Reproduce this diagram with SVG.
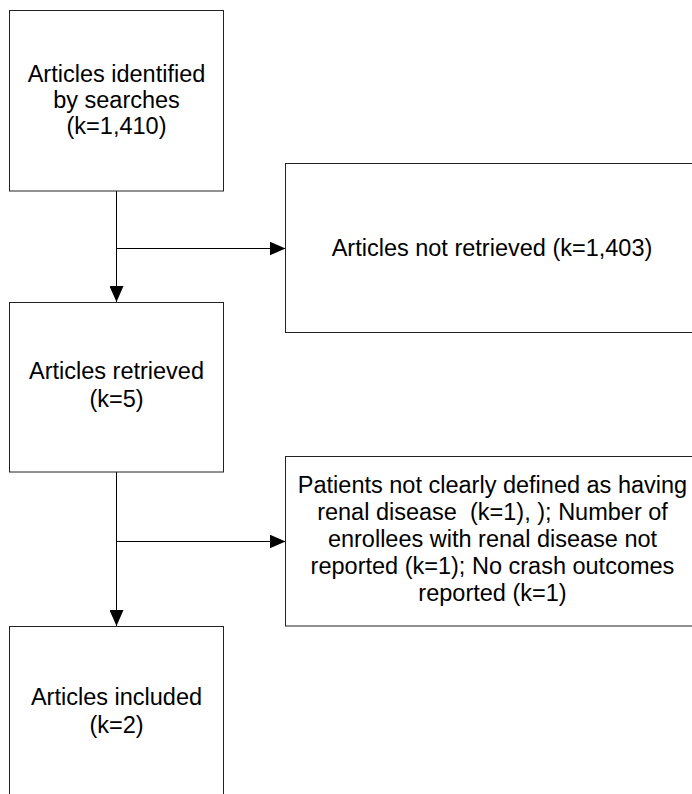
<svg xmlns="http://www.w3.org/2000/svg" width="692" height="794" viewBox="0 0 692 794">
<style>
.box{fill:#fff;stroke:#222;stroke-width:1}
.t{font-family:"Liberation Sans",Arial,sans-serif;font-size:23.5px;fill:#000;text-anchor:middle;white-space:pre}
.c{fill:none;stroke:#000;stroke-width:1}
</style>
<defs>
<marker id="ah" viewBox="0 0 16 14" refX="16" refY="7" markerWidth="16" markerHeight="14" markerUnits="userSpaceOnUse" orient="auto">
<path d="M0,0 L16,7 L0,14 Z" fill="#000"/>
</marker>
</defs>
<rect width="692" height="794" fill="#fff"/>
<g id="connectors">
<line class="c" x1="116.5" y1="191" x2="116.5" y2="302" marker-end="url(#ah)"/>
<line class="c" x1="116.5" y1="248.5" x2="285.5" y2="248.5" marker-end="url(#ah)"/>
<line class="c" x1="116.5" y1="472" x2="116.5" y2="626" marker-end="url(#ah)"/>
<line class="c" x1="116.5" y1="541.5" x2="285.5" y2="541.5" marker-end="url(#ah)"/>
</g>
<g id="identified">
<rect class="box" x="9.5" y="10.5" width="214" height="180.5"/>
<text class="t" x="116.5" y="81.5">Articles identified</text>
<text class="t" x="116.5" y="107.5">by searches</text>
<text class="t" x="116.5" y="134">(k=1,410)</text>
</g>
<g id="not-retrieved">
<rect class="box" x="285.5" y="163.5" width="413" height="169"/>
<text class="t" x="492" y="255.5">Articles not retrieved (k=1,403)</text>
</g>
<g id="retrieved">
<rect class="box" x="9.5" y="302.5" width="214" height="169.5"/>
<text class="t" x="116.5" y="379">Articles retrieved</text>
<text class="t" x="116.5" y="407">(k=5)</text>
</g>
<g id="excluded">
<rect class="box" x="285.5" y="456.5" width="414" height="169.5"/>
<text class="t" x="492.5" y="493">Patients not clearly defined as having</text>
<text class="t" x="492.5" y="520" xml:space="preserve">renal disease  (k=1), ); Number of</text>
<text class="t" x="492.5" y="547">enrollees with renal disease not</text>
<text class="t" x="492.5" y="574">reported (k=1); No crash outcomes</text>
<text class="t" x="492.5" y="601">reported (k=1)</text>
</g>
<g id="included">
<rect class="box" x="9.5" y="626.5" width="214" height="180"/>
<text class="t" x="116.5" y="705">Articles included</text>
<text class="t" x="116.5" y="733">(k=2)</text>
</g>
</svg>
